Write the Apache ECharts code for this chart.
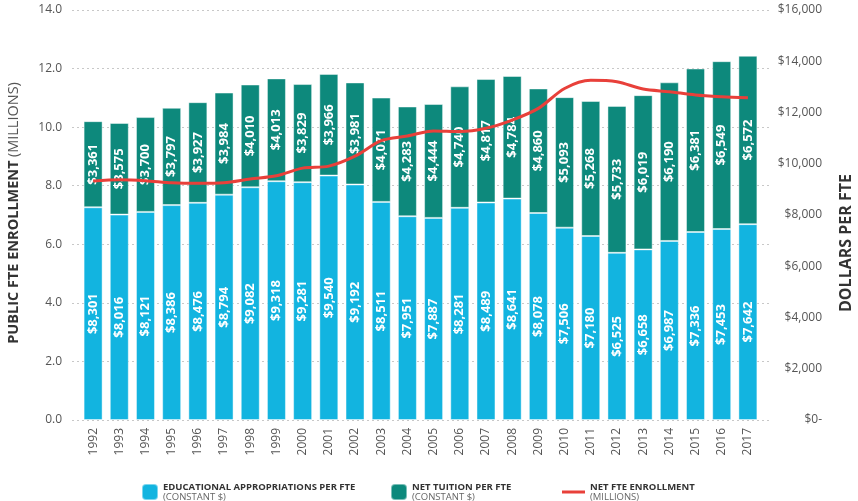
<!DOCTYPE html>
<html>
<head>
<meta charset="utf-8">
<script src="https://cdn.jsdelivr.net/npm/echarts@6/dist/echarts.min.js"></script>
<style>
  html, body { margin: 0; padding: 0; background: #fff; }
  #chart { width: 858px; height: 501px; }
</style>
</head>
<body>
<div id="chart"></div>
<script>
var years = ['1992','1993','1994','1995','1996','1997','1998','1999','2000','2001','2002','2003','2004',
             '2005','2006','2007','2008','2009','2010','2011','2012','2013','2014','2015','2016','2017'];
// educational appropriations per FTE (constant $)
var approp = [8301,8016,8121,8386,8476,8794,9082,9318,9281,9540,9192,8511,7951,
              7887,8281,8489,8641,8078,7506,7180,6525,6658,6987,7336,7453,7642];
// net tuition per FTE (constant $)
var tuition = [3361,3575,3700,3797,3927,3984,4010,4013,3829,3966,3981,4071,4283,
               4444,4740,4817,4784,4860,5093,5268,5733,6019,6190,6381,6549,6572];
// net FTE enrollment (millions)
var enrollment = [8.16,8.20,8.17,8.10,8.08,8.10,8.23,8.34,8.60,8.67,9.01,9.54,9.70,
                  9.87,9.85,9.96,10.24,10.64,11.32,11.60,11.55,11.30,11.21,11.10,11.04,11.00];

var leftTicks = [0, 14, 2];
var rightTicks = [0, 16000, 2000];

var subs = {
    'EDUCATIONAL APPROPRIATIONS PER FTE': '(CONSTANT $)',
    'NET TUITION PER FTE': '(CONSTANT $)',
    'NET FTE ENROLLMENT': '(MILLIONS)'
};

function money(v){
    return '$' + Number(v).toLocaleString('en-US');
}

var font = 'Open Sans';
var legendText = {
    fontFamily: font, fontSize: 9.5, lineHeight: 10,
    rich: {
        a: { fontFamily: font, fontSize: 9.5, fontWeight: 'bold', color: '#333', lineHeight: 10 },
        b: { fontFamily: font, fontSize: 9.5, color: '#666', lineHeight: 10 }
    }
};
function legendFmt(name){
    return '{a|' + name + '}\n{b|' + subs[name] + '}';
}

var myChart = echarts.init(document.getElementById('chart'));

var option = {
    animation: false,
    textStyle: { fontFamily: font },
    grid: [
        { left: 72, right: 88, top: 10, bottom: 81 },   // background grid lines only
        { left: 80, right: 97, top: 10, bottom: 81 }
    ],
    legend: [
        { data: ['EDUCATIONAL APPROPRIATIONS PER FTE'], left: 141, top: 482, padding: 0, icon: 'roundRect',
          itemWidth: 16, itemHeight: 16, textStyle: legendText, formatter: legendFmt },
        { data: ['NET TUITION PER FTE'], left: 390, top: 482, padding: 0, icon: 'roundRect',
          itemWidth: 16, itemHeight: 16, textStyle: legendText, formatter: legendFmt },
        { data: ['NET FTE ENROLLMENT'], left: 562, top: 482, padding: 0, icon: 'rect',
          itemWidth: 23, itemHeight: 3, textStyle: legendText, formatter: legendFmt }
    ],
    xAxis: [
        { gridIndex: 0, type: 'value', show: false, min: 0, max: 1 },
        {
            gridIndex: 1, type: 'category', data: years,
            axisLine: { show: false }, axisTick: { show: false },
            axisLabel: { rotate: 90, margin: 8, color: '#555', fontSize: 12, fontFamily: font }
        }
    ],
    yAxis: [
        {
            gridIndex: 0, type: 'value', min: leftTicks[0], max: leftTicks[1], interval: leftTicks[2],
            axisLabel: { show: false }, axisLine: { show: false }, axisTick: { show: false },
            splitLine: { lineStyle: { type: [2, 3], color: '#c8c8c8', width: 1 } }
        },
        {
            gridIndex: 1, type: 'value', position: 'left',
            min: leftTicks[0], max: leftTicks[1], interval: leftTicks[2],
            axisLine: { show: false }, axisTick: { show: false }, splitLine: { show: false },
            axisLabel: { margin: 18, color: '#555', fontSize: 12, fontFamily: font,
                         formatter: function(v){ return v.toFixed(1); } }
        },
        {
            gridIndex: 1, type: 'value', position: 'right',
            min: rightTicks[0], max: rightTicks[1], interval: rightTicks[2],
            axisLine: { show: false }, axisTick: { show: false }, splitLine: { show: false },
            axisLabel: { margin: 61, align: 'right', color: '#555', fontSize: 12, fontFamily: font,
                         formatter: function(v){ return v === 0 ? '$0-' : money(v); } }
        }
    ],
    graphic: [
        {
            type: 'text', x: 14, y: 213, rotation: Math.PI / 2,
            style: {
                text: '{a|PUBLIC FTE ENROLLMENT} {b|(MILLIONS)}',
                align: 'center', verticalAlign: 'middle',
                rich: {
                    a: { fontFamily: font, fontSize: 14.5, fontWeight: 'bold', fill: '#333' },
                    b: { fontFamily: font, fontSize: 14.5, fill: '#555' }
                }
            }
        },
        {
            type: 'text', x: 846, y: 243, rotation: Math.PI / 2,
            style: {
                text: 'DOLLARS PER FTE', align: 'center', verticalAlign: 'middle',
                fontFamily: font, fontSize: 16, fontWeight: 'bold', fill: '#333'
            }
        }
    ],
    series: [
        {
            name: 'EDUCATIONAL APPROPRIATIONS PER FTE', type: 'bar', stack: 'dollars',
            xAxisIndex: 1, yAxisIndex: 2, data: approp, barWidth: 19,
            itemStyle: { color: '#12b4e0', borderColor: 'rgba(255,255,255,0.45)', borderWidth: 1 },
            label: { show: true, position: 'inside', rotate: 90, color: '#fff',
                     fontFamily: font, fontSize: 13, fontWeight: 'bold',
                     formatter: function(p){ return money(p.value); } }
        },
        {
            name: 'NET TUITION PER FTE', type: 'bar', stack: 'dollars',
            xAxisIndex: 1, yAxisIndex: 2, data: tuition, barWidth: 19,
            itemStyle: { color: '#0d897c', borderColor: 'rgba(255,255,255,0.45)', borderWidth: 1 },
            label: { show: true, position: 'inside', rotate: 90, color: '#fff',
                     fontFamily: font, fontSize: 13, fontWeight: 'bold',
                     formatter: function(p){ return money(p.value); } }
        },
        {
            name: 'NET FTE ENROLLMENT', type: 'line', xAxisIndex: 1, yAxisIndex: 1,
            data: enrollment, smooth: 0.3, showSymbol: false, z: 5,
            lineStyle: { color: '#e8403a', width: 3 }, itemStyle: { color: '#e8403a' }
        }
    ]
};

myChart.setOption(option);
</script>
</body>
</html>
